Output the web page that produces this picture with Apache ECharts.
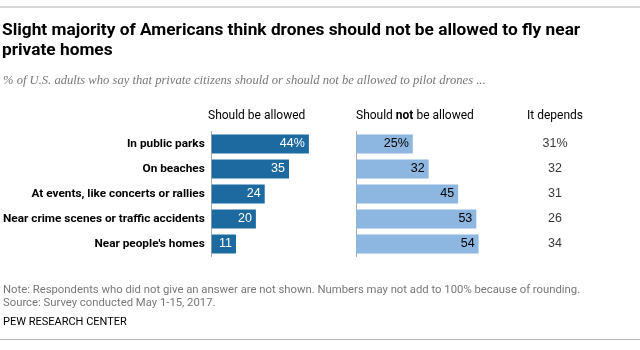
<!DOCTYPE html>
<html>
<head>
<meta charset="utf-8">
<script src="https://cdn.jsdelivr.net/npm/echarts@6/dist/echarts.min.js"></script>
<style>
  html, body { margin: 0; padding: 0; background: #fff; }
  #main { width: 640px; height: 350px; }
</style>
</head>
<body>
<div id="main"></div>
<script>
var categories = ['In public parks', 'On beaches', 'At events, like concerts or rallies', 'Near crime scenes or traffic accidents', "Near people's homes"];
var allowedValues = [44, 35, 24, 20, 11];
var notAllowedValues = [25, 32, 45, 53, 54];
var dependsValues = [31, 32, 31, 26, 34];

var narrow = 'Roboto, Arial, sans-serif';
var chart = echarts.init(document.getElementById('main'));

function pct(v, i) { return i === 0 ? v + '%' : '' + v; }

var option = {
  animation: false,
  title: [
    {
      text: 'Slight majority of Americans think drones should not be allowed to fly near\nprivate homes',
      left: 2, top: 21, padding: 0,
      textStyle: { fontFamily: narrow, fontWeight: 'bold', fontSize: 17.3, color: '#000', lineHeight: 20 }
    },
    {
      text: '% of U.S. adults who say that private citizens should or should not be allowed to pilot drones ...',
      left: 3, top: 74, padding: 0,
      textStyle: { fontFamily: '"Liberation Serif", serif', fontStyle: 'italic', fontWeight: 'normal', fontSize: 12.6, color: '#777' }
    },
    {
      text: 'Note: Respondents who did not give an answer are not shown. Numbers may not add to 100% because of rounding.\nSource: Survey conducted May 1-15, 2017.',
      left: 3, top: 284, padding: 0,
      textStyle: { fontFamily: narrow, fontWeight: 'normal', fontSize: 11.3, color: '#777', lineHeight: 13 }
    },
    {
      text: 'PEW RESEARCH CENTER',
      left: 3, top: 317, padding: 0,
      textStyle: { fontFamily: narrow, fontWeight: 'normal', fontSize: 11, color: '#000' }
    },
    {
      text: 'Should be allowed',
      left: 208, top: 110, padding: 0,
      textStyle: { fontFamily: narrow, fontWeight: 'normal', fontSize: 12, color: '#000' }
    },
    {
      text: 'Should {b|not} be allowed',
      left: 356, top: 110, padding: 0,
      textStyle: { fontFamily: narrow, fontWeight: 'normal', fontSize: 12, color: '#000',
        rich: { b: { fontFamily: narrow, fontWeight: 'bold', fontSize: 12, color: '#000' } } }
    },
    {
      text: 'It depends',
      left: 555, top: 110, textAlign: 'center', padding: 0,
      textStyle: { fontFamily: narrow, fontWeight: 'normal', fontSize: 12, color: '#000' }
    }
  ],
  graphic: [
    { type: 'rect', shape: { x: 0, y: 6, width: 640, height: 2 }, style: { fill: '#d6d6d6' } },
    { type: 'rect', shape: { x: 0, y: 339, width: 640, height: 1 }, style: { fill: '#bbbbbb' } }
  ],
  grid: [
    { left: 208, top: 131.5, width: 136.2, height: 125 },
    { left: 356, top: 131.5, width: 136.2, height: 125 },
    { left: 530, top: 131.5, width: 50, height: 125 }
  ],
  xAxis: [
    { gridIndex: 0, type: 'value', min: 0, max: 60, show: false },
    { gridIndex: 1, type: 'value', min: 0, max: 60, show: false },
    { gridIndex: 2, type: 'value', min: -1, max: 1, show: false }
  ],
  yAxis: [
    {
      gridIndex: 0, type: 'category', data: categories, inverse: true,
      axisLine: { lineStyle: { color: '#aaa', width: 1 } },
      axisTick: { show: false },
      axisLabel: { margin: 7, fontFamily: narrow, fontWeight: 'bold', fontSize: 11.8, color: '#000' }
    },
    {
      gridIndex: 1, type: 'category', data: categories, inverse: true,
      axisLine: { lineStyle: { color: '#aaa', width: 1 } },
      axisTick: { show: false },
      axisLabel: { show: false }
    },
    { gridIndex: 2, type: 'category', data: categories, inverse: true, show: false }
  ],
  series: [
    {
      type: 'bar', xAxisIndex: 0, yAxisIndex: 0, data: allowedValues, barWidth: 19,
      itemStyle: { color: '#1d6aa1' },
      label: { show: true, position: 'insideRight', distance: 4, color: '#fff',
        fontFamily: 'Arial, sans-serif', fontSize: 12.5,
        formatter: function (p) { return pct(p.value, p.dataIndex); } }
    },
    {
      type: 'bar', xAxisIndex: 1, yAxisIndex: 1, data: notAllowedValues, barWidth: 19,
      itemStyle: { color: '#8db6e0' },
      label: { show: true, position: 'insideRight', distance: 4, color: '#000',
        fontFamily: 'Arial, sans-serif', fontSize: 12.5,
        formatter: function (p) { return pct(p.value, p.dataIndex); } }
    },
    {
      type: 'scatter', xAxisIndex: 2, yAxisIndex: 2, symbolSize: 0,
      data: dependsValues.map(function (v, i) { return [0, categories[i], v]; }),
      label: { show: true, position: 'inside', color: '#000',
        fontFamily: 'Arial, sans-serif', fontSize: 12.5,
        formatter: function (p) { return pct(p.value[2], p.dataIndex); } }
    }
  ]
};

chart.setOption(option);
</script>
</body>
</html>
